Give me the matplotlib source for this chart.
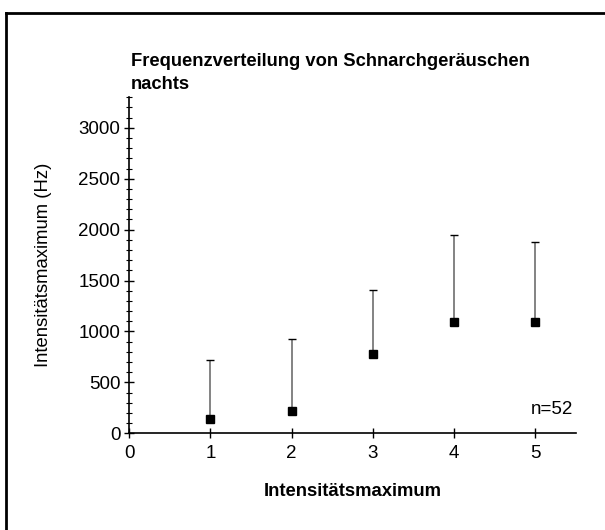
import matplotlib.pyplot as plt
from matplotlib.lines import Line2D
from matplotlib.ticker import MultipleLocator

plt.rcParams['font.family'] = ['Liberation Sans', 'DejaVu Sans']

# Intensitätsmaximum classes, mean frequency and upper bound of the spread
klassen = [1, 2, 3, 4, 5]
mittelwert = [138, 219, 775, 1089, 1089]
obergrenze = [715, 924, 1410, 1949, 1877]

oben = [o - m for o, m in zip(obergrenze, mittelwert)]
unten = [0] * len(klassen)

fig = plt.figure(figsize=(6.05, 5.3), dpi=100)
ax = fig.add_axes([0.2137, 0.1825, 0.7379, 0.6339])

# only the upward part of the spread is drawn
eb = ax.errorbar(klassen, mittelwert, yerr=[unten, oben], fmt='none',
                 ecolor='#7a7a7a', elinewidth=1.3, capsize=3.0, capthick=1.0,
                 zorder=2)
for cap in eb[1]:
    cap.set_markeredgecolor('black')
ax.plot(klassen, mittelwert, 's', color='black', markersize=5.2, zorder=3)

ax.set_xlim(0, 5.5)
ax.set_ylim(0, 3300)
ax.set_xticks(range(0, 6))
ax.yaxis.set_major_locator(MultipleLocator(500))
ax.yaxis.set_minor_locator(MultipleLocator(100))

for side in ['top', 'right']:
    ax.spines[side].set_visible(False)
ax.spines['left'].set_linewidth(1.2)
ax.spines['bottom'].set_linewidth(1.2)
ax.tick_params(axis='both', which='major', direction='inout', length=7,
               width=1.0, labelsize=13.5, pad=3)
ax.tick_params(axis='x', which='major', pad=5)
ax.tick_params(axis='y', which='minor', direction='inout', length=4, width=0.8)

ax.set_ylabel('Intensitätsmaximum (Hz)', fontsize=13.3, labelpad=19)
ax.set_xlabel('Intensitätsmaximum', fontsize=13.3, fontweight='bold',
              labelpad=15)
ax.text(0.995, 0.045, 'n=52', transform=ax.transAxes, ha='right', va='bottom',
        fontsize=13.5)

fig.text(0.2165, 0.862, 'Frequenzverteilung von Schnarchgeräuschen\nnachts',
         ha='left', va='center', fontsize=13.2, fontweight='bold',
         linespacing=1.45)

# outer frame: top and left edge
fig.add_artist(Line2D([0.0095, 1.0], [0.975, 0.975], color='black', lw=2.0))
fig.add_artist(Line2D([0.0095, 0.0095], [0.0, 0.975], color='black', lw=2.0))

fig.savefig('out.png', dpi=100)
